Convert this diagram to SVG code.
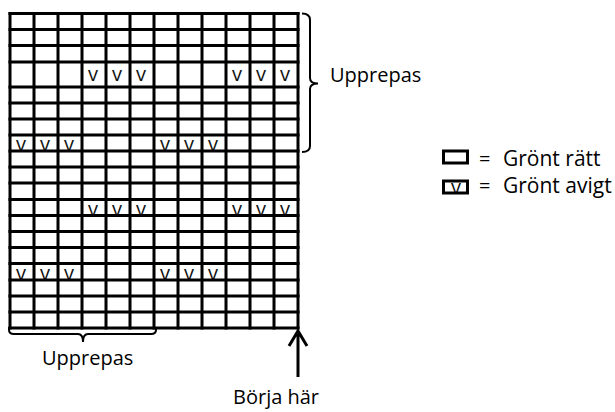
<svg xmlns="http://www.w3.org/2000/svg" width="615" height="412" viewBox="0 0 615 412">
<style>
.t{font-family:"Open Sans","Liberation Sans",sans-serif;font-size:20px;fill:#000}
.v{font-family:"Open Sans","Liberation Sans",sans-serif;font-size:20px;fill:#111;text-anchor:middle}
.g{stroke:#000;stroke-width:3;fill:none;stroke-linecap:square}
.b{stroke:#000;stroke-width:2;fill:none}
</style>
<rect width="615" height="412" fill="#fff"/>
<g id="grid">
<g id="stitches">
<text class="v" x="93" y="81">v</text><text class="v" x="117" y="81">v</text><text class="v" x="141" y="81">v</text>
<text class="v" x="237" y="81">v</text><text class="v" x="261" y="81">v</text><text class="v" x="285" y="81">v</text>
<text class="v" x="21" y="151">v</text><text class="v" x="45" y="151">v</text><text class="v" x="69" y="151">v</text>
<text class="v" x="165" y="151">v</text><text class="v" x="189" y="151">v</text><text class="v" x="213" y="151">v</text>
<text class="v" x="93" y="216">v</text><text class="v" x="117" y="216">v</text><text class="v" x="141" y="216">v</text>
<text class="v" x="237" y="216">v</text><text class="v" x="261" y="216">v</text><text class="v" x="285" y="216">v</text>
<text class="v" x="21" y="280">v</text><text class="v" x="45" y="280">v</text><text class="v" x="69" y="280">v</text>
<text class="v" x="165" y="280">v</text><text class="v" x="189" y="280">v</text><text class="v" x="213" y="280">v</text>
</g>
<path class="g" d="M10,13.5H298M10,29.5H298M10,45.5H298M10,62H298M10,87H298M10,103H298M10,119H298M10,135H298M10,151H298M10,167H298M10,183H298M10,199.5H298M10,215.5H298M10,231.5H298M10,247.5H298M10,263.5H298M10,280H298M10,296H298M10,312H298M10,328H298"/>
<path class="g" d="M10,13.5V328M34,13.5V328M58,13.5V328M82,13.5V328M106,13.5V328M130,13.5V328M154,13.5V328M178,13.5V328M202,13.5V328M226,13.5V328M250,13.5V328M274,13.5V328M298,13.5V328"/>
</g>
<g id="brace-right">
<path class="b" d="M302,13.5Q310,13.5 310,20V78Q310,83.5 318,83.5M318,83.5Q310,83.5 310,89V146Q310,152 302,152"/>
<text class="t" x="330" y="82">Upprepas</text>
</g>
<g id="brace-bottom">
<path class="b" d="M9,327V330Q9,334 14,334H78Q83,334 83,342M83,342Q83,334 88,334H151Q156,334 156,330V327"/>
<text class="t" x="42" y="365">Upprepas</text>
</g>
<g id="legend">
<g id="legend-ratt">
<rect x="443.5" y="151" width="24" height="12" fill="#fff" stroke="#000" stroke-width="3"/>
<text class="t" x="479" y="166">=</text>
<text class="t" x="503" y="166" style="font-size:21px">Grönt rätt</text>
</g>
<g id="legend-avigt">
<text class="v" x="456" y="194">v</text>
<rect x="443.5" y="181" width="24" height="12" fill="none" stroke="#000" stroke-width="3"/>
<text class="t" x="479" y="193">=</text>
<text class="t" x="503" y="193" style="font-size:21px">Grönt avigt</text>
</g>
</g>
<g id="connectors">
<path class="g" d="M298,331V377M289,346L298,331L307,346" style="stroke-linecap:butt"/>
</g>
<g id="start">
<text class="t" x="233" y="404">Börja här</text>
</g>
</svg>
